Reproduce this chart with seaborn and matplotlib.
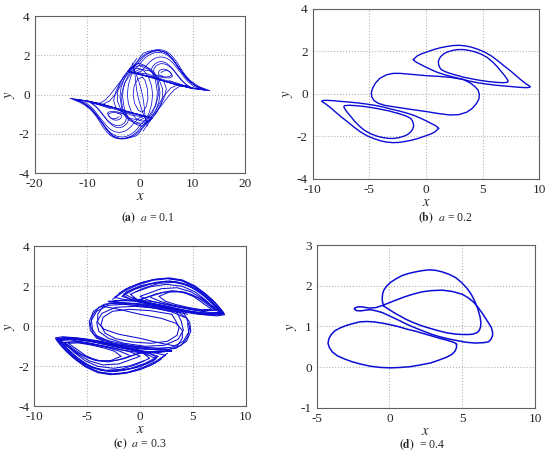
"""
Retratos de fase x-y para quatro valores do parametro a
"""

import numpy as np
import pandas as pd
import matplotlib

matplotlib.use("Agg")
import matplotlib.pyplot as plt
import seaborn as sns

# ================================================================ (a) a = 0.1
# asa superior (gotas encadeadas)
a_sup1_x = [-2.2, 0.0, 3.2, 6.3, 9.5, 11.5, 13.3, 11.4, 10.4, 9.5, 8.8, 8.2, 7.6, 7.0, 6.3, 5.7, 5.0, 4.4, 3.8, 3.2,
            2.5, 1.9, 1.2, 0.6, 0.0, -0.5, -1.0, -1.5, -1.9, -2.2,
            0.5, 3.5, 6.5, 9.5, 12.2, 10.5, 9.6, 9.0, 8.4, 7.8, 7.2, 6.7, 6.1, 5.5, 4.9, 4.3, 3.7, 3.1, 2.5, 2.0,
            1.4, 0.9, 0.4, 0.0, -0.8, -1.3, -1.8]
a_sup1_y = [1.17, 1.02, 0.81, 0.56, 0.34, 0.26, 0.20, 0.39, 0.55, 0.73, 0.93, 1.15, 1.40, 1.66, 1.90, 2.08, 2.20, 2.26, 2.29, 2.29,
            2.26, 2.22, 2.17, 2.10, 1.90, 1.70, 1.55, 1.40, 1.26, 1.17,
            1.00, 0.78, 0.53, 0.35, 0.24, 0.45, 0.62, 0.80, 1.00, 1.20, 1.40, 1.60, 1.80, 1.95, 2.06, 2.12, 2.15, 2.15, 2.11, 2.05,
            1.96, 1.85, 1.70, 1.55, 1.32, 1.25, 1.18]
a_sup2_x = [-1.8, 1.0, 4.0, 7.0, 10.0, 11.8, 10.2, 9.4, 8.7, 8.1, 7.5, 6.9, 6.3, 5.7, 5.1, 4.5, 3.9, 3.3, 2.8, 2.3,
            1.8, 1.4, 1.0, 0.6, 0.3, -0.6,
            1.5, 4.0, 6.5, 8.5, 9.5, 8.9, 8.3, 7.7, 7.2, 6.7, 6.2, 5.6, 5.1, 4.5, 4.0, 3.5, 3.0, 2.7, 2.6, 2.7, 3.0,
            3.6, 4.2, 4.8, 5.4, 5.9, 6.2, 5.9, 5.5, 5.0, 4.5, 4.0, 3.6, 3.5, 3.8, 4.3]
a_sup2_y = [1.18, 0.98, 0.74, 0.50, 0.32, 0.26, 0.42, 0.60, 0.78, 1.00, 1.20, 1.40, 1.60, 1.75, 1.85, 1.90, 1.92, 1.89, 1.85, 1.76,
            1.65, 1.53, 1.40, 1.30, 1.20, 1.12,
            1.05, 0.80, 0.60, 0.45, 0.40, 0.50, 0.62, 0.78, 0.95, 1.12, 1.30, 1.43, 1.52, 1.57, 1.58, 1.54, 1.45, 1.34, 1.20, 1.08, 1.00,
            0.92, 0.88, 0.86, 0.85, 0.88, 0.95, 1.08, 1.20, 1.28, 1.30, 1.27, 1.20, 1.05, 0.98, 0.95]
a_sup3_x = [5.5, 8.0, 10.5, 12.8, 10.8, 10.0, 9.2, 8.6, 8.0, 7.4, 6.8, 6.2, 5.6, 5.0, 4.3, 3.6, 3.0, 2.4, 1.8, 1.2,
            0.6, 0.1, -0.3, -0.8, -1.2, -1.8, -2.3,
            -2.0, 1.0, 4.0, 7.0, 10.0, 12.5, 10.7, 9.8, 9.0, 8.3, 7.7, 7.1, 6.5, 5.8, 5.2, 4.6, 4.0, 3.4, 2.8, 2.2,
            1.6, 1.0, 0.5, -0.1, -0.6, -1.1, -1.6, -2.4]
a_sup3_y = [0.72, 0.50, 0.32, 0.22, 0.42, 0.58, 0.76, 0.95, 1.15, 1.38, 1.60, 1.82, 2.00, 2.12, 2.20, 2.23, 2.22, 2.18, 2.12, 2.03,
            1.90, 1.75, 1.62, 1.50, 1.38, 1.28, 1.18,
            1.15, 0.95, 0.72, 0.50, 0.31, 0.23, 0.43, 0.60, 0.78, 1.00, 1.22, 1.45, 1.70, 1.92, 2.10, 2.18, 2.22, 2.24, 2.24, 2.20,
            2.14, 2.06, 1.95, 1.80, 1.62, 1.48, 1.35, 1.18]
a_sup4_x = [0.0, 3.0, 6.0, 8.0, 9.0, 8.5, 8.0, 7.5, 7.0, 6.5, 6.0, 5.5, 4.9, 4.3, 3.8, 3.3, 2.8, 2.4, 2.2, 2.3, 2.5,
            3.0, 3.6, 4.3, 5.0, 5.6, 6.0, 5.9, 5.6, 5.2, 4.7, 4.3, 4.0]
a_sup4_y = [1.05, 0.82, 0.60, 0.48, 0.45, 0.58, 0.72, 0.88, 1.05, 1.22, 1.38, 1.50, 1.62, 1.68, 1.68, 1.64, 1.55, 1.44, 1.30, 1.18, 1.08,
            1.00, 0.95, 0.92, 0.90, 0.93, 1.00, 1.10, 1.18, 1.22, 1.22, 1.18, 1.12]

# asa inferior (simétrica na figura)
a_inf1_x = [2.2, 0.0, -3.2, -6.3, -9.5, -11.5, -13.3, -11.4, -10.4, -9.5, -8.8, -8.2, -7.6, -7.0, -6.3, -5.7, -5.0, -4.4, -3.8, -3.2,
            -2.5, -1.9, -1.2, -0.6, 0.0, 0.5, 1.0, 1.5, 1.9, 2.2,
            -0.5, -3.5, -6.5, -9.5, -12.2, -10.5, -9.6, -9.0, -8.4, -7.8, -7.2, -6.7, -6.1, -5.5, -4.9, -4.3, -3.7, -3.1, -2.5, -2.0,
            -1.4, -0.9, -0.4, 0.0, 0.8, 1.3, 1.8]
a_inf1_y = [-1.17, -1.02, -0.81, -0.56, -0.34, -0.26, -0.18, -0.39, -0.55, -0.73, -0.93, -1.15, -1.40, -1.66, -1.90, -2.06, -2.17, -2.23, -2.25, -2.25,
            -2.22, -2.18, -2.14, -2.08, -1.90, -1.70, -1.55, -1.40, -1.26, -1.17,
            -1.00, -0.78, -0.53, -0.35, -0.24, -0.45, -0.62, -0.80, -1.00, -1.20, -1.40, -1.60, -1.80, -1.95, -2.06, -2.12, -2.15, -2.15, -2.11, -2.05,
            -1.96, -1.85, -1.70, -1.55, -1.32, -1.25, -1.18]
a_inf2_x = [1.8, -1.0, -4.0, -7.0, -10.0, -11.8, -10.2, -9.4, -8.7, -8.1, -7.5, -6.9, -6.3, -5.7, -5.1, -4.5, -3.9, -3.3, -2.8, -2.3,
            -1.8, -1.4, -1.0, -0.6, -0.3, 0.6,
            -1.5, -4.0, -6.5, -8.5, -9.5, -8.9, -8.3, -7.7, -7.2, -6.7, -6.2, -5.6, -5.1, -4.5, -4.0, -3.5, -3.0, -2.7, -2.6, -2.7, -3.0,
            -3.6, -4.2, -4.8, -5.4, -5.9, -6.2, -5.9, -5.5, -5.0, -4.5, -4.0, -3.6, -3.5, -3.8, -4.3]
a_inf2_y = [-1.18, -0.98, -0.74, -0.50, -0.32, -0.26, -0.42, -0.60, -0.78, -1.00, -1.20, -1.40, -1.60, -1.75, -1.85, -1.90, -1.92, -1.89, -1.85, -1.76,
            -1.65, -1.53, -1.40, -1.30, -1.20, -1.12,
            -1.05, -0.80, -0.60, -0.45, -0.40, -0.50, -0.62, -0.78, -0.95, -1.12, -1.30, -1.43, -1.52, -1.57, -1.58, -1.54, -1.45, -1.34, -1.20, -1.08, -1.00,
            -0.92, -0.88, -0.86, -0.85, -0.88, -0.95, -1.08, -1.20, -1.28, -1.30, -1.27, -1.20, -1.05, -0.98, -0.95]
a_inf3_x = [-5.5, -8.0, -10.5, -12.8, -10.8, -10.0, -9.2, -8.6, -8.0, -7.4, -6.8, -6.2, -5.6, -5.0, -4.3, -3.6, -3.0, -2.4, -1.8, -1.2,
            -0.6, -0.1, 0.3, 0.8, 1.2, 1.8, 2.3,
            2.0, -1.0, -4.0, -7.0, -10.0, -12.5, -10.7, -9.8, -9.0, -8.3, -7.7, -7.1, -6.5, -5.8, -5.2, -4.6, -4.0, -3.4, -2.8, -2.2,
            -1.6, -1.0, -0.5, 0.1, 0.6, 1.1, 1.6, 2.4]
a_inf3_y = [-0.72, -0.50, -0.32, -0.22, -0.42, -0.58, -0.76, -0.95, -1.15, -1.38, -1.60, -1.82, -2.00, -2.12, -2.20, -2.23, -2.22, -2.18, -2.12, -2.03,
            -1.90, -1.75, -1.62, -1.50, -1.38, -1.28, -1.18,
            -1.15, -0.95, -0.72, -0.50, -0.31, -0.23, -0.43, -0.60, -0.78, -1.00, -1.22, -1.45, -1.70, -1.92, -2.10, -2.18, -2.22, -2.24, -2.24, -2.20,
            -2.14, -2.06, -1.95, -1.80, -1.62, -1.48, -1.35, -1.18]
a_inf4_x = [0.0, -3.0, -6.0, -8.0, -9.0, -8.5, -8.0, -7.5, -7.0, -6.5, -6.0, -5.5, -4.9, -4.3, -3.8, -3.3, -2.8, -2.4, -2.2, -2.3, -2.5,
            -3.0, -3.6, -4.3, -5.0, -5.6, -6.0, -5.9, -5.6, -5.2, -4.7, -4.3, -4.0]
a_inf4_y = [-1.05, -0.82, -0.60, -0.48, -0.45, -0.58, -0.72, -0.88, -1.05, -1.22, -1.38, -1.50, -1.62, -1.68, -1.68, -1.64, -1.55, -1.44, -1.30, -1.18, -1.08,
            -1.00, -0.95, -0.92, -0.90, -0.93, -1.00, -1.10, -1.18, -1.22, -1.22, -1.18, -1.12]

# região central: passagens de uma asa para a outra
a_cen1_x = [-0.6, -1.5, -2.5, -3.5, -4.5, -5.5, -6.5, -7.5, -9.0]
a_cen1_y = [1.85, 1.50, 1.12, 0.75, 0.40, 0.05, -0.25, -0.42, -0.45]
a_cen2_x = [0.6, 1.5, 2.5, 3.5, 4.5, 5.5, 6.5, 7.5, 9.0]
a_cen2_y = [-1.85, -1.50, -1.12, -0.75, -0.40, -0.05, 0.25, 0.42, 0.45]
a_cen3_x = [-2.0, -3.0, -3.6, -3.8, -3.4, -2.8, -2.0, -1.0, 0.0, 1.0, 1.8, 2.6, 3.3, 4.0, 4.6, 5.8, 7.2]
a_cen3_y = [1.20, 0.80, 0.35, -0.10, -0.80, -1.10, -1.30, -1.45, -1.50, -1.40, -1.25, -0.98, -0.65, -0.30, -0.05, 0.33, 0.50]
a_cen4_x = [2.0, 3.0, 3.6, 3.8, 3.4, 2.8, 2.0, 1.0, 0.0, -1.0, -1.8, -2.6, -3.3, -4.0, -4.6, -5.8, -7.2]
a_cen4_y = [-1.20, -0.80, -0.35, 0.10, 0.80, 1.10, 1.30, 1.45, 1.50, 1.40, 1.25, 0.98, 0.65, 0.30, 0.05, -0.33, -0.50]
a_cen5_x = [-1.0, -1.7, -2.2, -2.4, -2.2, -1.6, -0.8, 0.0, 0.8, 1.6, 2.2, 2.8, 3.2, 3.3, 3.1, 2.8, 2.2, 1.5, 0.7, 0.0]
a_cen5_y = [1.30, 0.95, 0.50, 0.00, -0.45, -0.90, -1.20, -1.32, -1.35, -1.18, -1.00, -0.65, -0.25, 0.10, 0.50, 0.90, 1.15, 1.30, 1.40, 1.45]
a_cen6_x = [1.0, 1.7, 2.2, 2.4, 2.2, 1.6, 0.8, 0.0, -0.8, -1.6, -2.2, -2.8, -3.2, -3.3, -3.1, -2.8, -2.2, -1.5, -0.7, 0.0]
a_cen6_y = [-1.30, -0.95, -0.50, 0.00, 0.45, 0.90, 1.20, 1.32, 1.35, 1.18, 1.00, 0.65, 0.25, -0.10, -0.50, -0.90, -1.15, -1.30, -1.40, -1.45]
a_cen7_x = [-1.5, -0.8, -0.2, 0.3, 0.6, 0.8, 1.0, 1.4]
a_cen7_y = [1.45, 1.10, 0.65, 0.20, -0.20, -0.60, -1.20, -1.60]
a_cen8_x = [1.5, 0.8, 0.2, -0.3, -0.6, -0.8, -1.0, -1.4]
a_cen8_y = [-1.45, -1.10, -0.65, -0.20, 0.20, 0.60, 1.20, 1.60]
a_cen9_x = [0.5, -0.4, -1.1, -1.3, -1.0, -0.3, 0.5, 1.2, 1.5, 1.4, 1.0, 0.5]
a_cen9_y = [0.90, 0.80, 0.45, 0.00, -0.45, -0.80, -0.90, -0.60, -0.20, 0.30, 0.70, 0.90]
a_cen10_x = [-2.8, -3.8, -4.6, -5.0, -4.6, -3.6, -2.4, -1.2]
a_cen10_y = [1.00, 0.60, 0.15, -0.30, -0.65, -0.85, -0.92, -0.98]
a_cen11_x = [2.8, 3.8, 4.6, 5.0, 4.6, 3.6, 2.4, 1.2]
a_cen11_y = [-1.00, -0.60, -0.15, 0.30, 0.65, 0.85, 0.92, 0.98]
a_cen12_x = [-0.2, -1.8, -3.2, -4.2, -4.3, -3.5, -2.0, 0.0, 1.8, 3.0, 3.6, 3.3, 2.2, 0.8, -0.2]
a_cen12_y = [1.60, 1.35, 0.90, 0.30, -0.30, -0.85, -1.20, -1.30, -1.05, -0.55, 0.10, 0.70, 1.20, 1.50, 1.60]
a_cen13_x = [0.2, 1.8, 3.2, 4.2, 4.3, 3.5, 2.0, 0.0, -1.8, -3.0, -3.6, -3.3, -2.2, -0.8, 0.2]
a_cen13_y = [-1.60, -1.35, -0.90, -0.30, 0.30, 0.85, 1.20, 1.30, 1.05, 0.55, -0.10, -0.70, -1.20, -1.50, -1.60]

# ================================================================ (b) a = 0.2
b_sup_ext_x = [-1.12, -0.80, -0.44, 0.20, 0.74, 1.30, 1.91, 2.40, 2.94, 3.50, 3.97, 4.60, 5.15, 5.80, 6.32, 6.90,
               7.50, 8.00, 8.53, 8.90, 9.12, 9.21, 9.00, 8.68, 8.10, 7.50, 6.80, 6.03, 5.30, 4.56, 3.80, 3.09,
               2.30, 1.62, 1.00, 0.44, 0.00, -0.44, -0.80, -0.97, -1.12]
b_sup_ext_y = [1.62, 1.78, 1.88, 2.00, 2.10, 2.18, 2.24, 2.28, 2.29, 2.26, 2.21, 2.10, 1.98, 1.78, 1.57, 1.32,
               1.07, 0.84, 0.60, 0.45, 0.38, 0.33, 0.30, 0.30, 0.32, 0.35, 0.38, 0.42, 0.47, 0.53, 0.61, 0.71,
               0.81, 0.91, 1.02, 1.15, 1.26, 1.38, 1.48, 1.54, 1.62]
b_sup_int_x = [2.50, 2.00, 1.62, 1.35, 1.21, 1.12, 1.09, 1.17, 1.32, 1.60, 1.91, 2.35, 2.79, 3.30, 3.82, 4.35,
               4.85, 5.40, 5.88, 6.30, 6.62, 6.92, 7.15, 7.25, 7.20, 6.76, 6.20, 5.59, 4.90, 4.26, 3.70, 3.24,
               2.85, 2.50]
b_sup_int_y = [0.91, 0.99, 1.07, 1.15, 1.25, 1.38, 1.51, 1.65, 1.77, 1.90, 1.98, 2.05, 2.09, 2.09, 2.05, 1.98,
               1.88, 1.72, 1.51, 1.28, 1.07, 0.88, 0.71, 0.61, 0.55, 0.53, 0.55, 0.58, 0.63, 0.69, 0.75, 0.80,
               0.86, 0.91]
b_meio_x = [2.21, 1.10, 0.06, -0.80, -1.62, -2.30, -2.88, -3.50, -4.06, -4.45, -4.71, -4.82, -4.79, -4.60,
            -4.21, -3.60, -2.88, -1.40, 0.06, 1.10, 2.12, 2.90, 3.59, 4.10, 4.47, 4.68, 4.71, 4.60, 4.32,
            3.90, 3.30, 2.21]
b_meio_y = [0.78, 0.83, 0.86, 0.90, 0.94, 0.97, 0.97, 0.90, 0.74, 0.52, 0.27, 0.07, -0.13, -0.30,
            -0.44, -0.54, -0.60, -0.72, -0.83, -0.92, -0.99, -0.97, -0.86, -0.67, -0.44, -0.22, -0.02, 0.18, 0.35,
            0.52, 0.68, 0.78]
b_inf_ext_x = [1.12, 0.80, 0.44, -0.20, -0.74, -1.30, -1.91, -2.40, -2.94, -3.50, -3.97, -4.60, -5.15, -5.80, -6.32, -6.90,
               -7.50, -8.00, -8.53, -8.90, -9.12, -9.21, -9.00, -8.68, -8.10, -7.50, -6.80, -6.03, -5.30, -4.56, -3.80, -3.09,
               -2.30, -1.62, -1.00, -0.44, 0.00, 0.44, 0.80, 0.97, 1.12]
b_inf_ext_y = [-1.62, -1.78, -1.88, -2.00, -2.10, -2.18, -2.24, -2.28, -2.29, -2.26, -2.21, -2.10, -1.98, -1.78, -1.57, -1.32,
               -1.07, -0.84, -0.60, -0.45, -0.38, -0.33, -0.30, -0.30, -0.32, -0.35, -0.38, -0.42, -0.47, -0.53, -0.61, -0.71,
               -0.81, -0.91, -1.02, -1.15, -1.26, -1.38, -1.48, -1.54, -1.62]
b_inf_int_x = [-2.50, -2.00, -1.62, -1.35, -1.21, -1.12, -1.09, -1.17, -1.32, -1.60, -1.91, -2.35, -2.79, -3.30, -3.82, -4.35,
               -4.85, -5.40, -5.88, -6.30, -6.62, -6.92, -7.15, -7.25, -7.20, -6.76, -6.20, -5.59, -4.90, -4.26, -3.70, -3.24,
               -2.85, -2.50]
b_inf_int_y = [-0.91, -0.99, -1.07, -1.15, -1.25, -1.38, -1.51, -1.65, -1.77, -1.90, -1.98, -2.05, -2.09, -2.09, -2.05, -1.98,
               -1.88, -1.72, -1.51, -1.28, -1.07, -0.88, -0.71, -0.61, -0.55, -0.53, -0.55, -0.58, -0.63, -0.69, -0.75, -0.80,
               -0.86, -0.91]

# ================================================================ (c) a = 0.3
c_sup1_x = [-2.0, -1.0, 0.2, 1.5, 2.8, 4.0, 5.2, 6.3, 7.2, 7.8, 8.0, 7.3, 6.0, 4.5, 3.0, 1.5, 0.0, -1.0, -1.6,
            -1.3, 0.0, 1.5, 2.8, 4.0, 5.2, 6.2, 7.1, 7.7, 7.1, 5.8, 4.3, 2.8, 1.3, 0.0, -0.8]
c_sup1_y = [1.65, 1.95, 2.20, 2.36, 2.42, 2.32, 2.02, 1.58, 1.12, 0.75, 0.58, 0.52, 0.58, 0.72, 0.90, 1.05, 1.20, 1.38, 1.55,
            1.72, 2.02, 2.20, 2.27, 2.15, 1.86, 1.46, 1.02, 0.68, 0.60, 0.66, 0.80, 0.98, 1.14, 1.30, 1.45]
c_sup2_x = [-0.4, 1.0, 2.5, 4.0, 5.2, 6.2, 7.0, 7.5, 6.6, 5.1, 3.6, 2.1, 0.8, 0.0,
            0.8, 2.0, 3.5, 4.8, 5.9, 6.8, 7.2, 6.1, 4.6, 3.1, 1.9, 1.0]
c_sup2_y = [1.72, 1.98, 2.10, 2.00, 1.72, 1.32, 0.92, 0.70, 0.68, 0.80, 0.96, 1.12, 1.30, 1.50,
            1.65, 1.88, 1.93, 1.73, 1.38, 0.98, 0.80, 0.77, 0.90, 1.06, 1.25, 1.45]
c_sup3_x = [-2.6, -1.5, -0.3, 1.2, 2.6, 3.9, 5.1, 6.1, 7.0, 7.6, 7.9, 7.0, 5.5, 4.0, 2.5, 1.0, -0.5, -1.8, -3.0,
            -1.0, 1.0, 3.0, 5.0, 6.8, 7.9, 7.2, 6.0, 4.8, 3.5, 2.2, 1.0, 0.0, -1.5, -3.0]
c_sup3_y = [1.35, 1.75, 2.05, 2.30, 2.38, 2.28, 1.98, 1.60, 1.20, 0.85, 0.66, 0.58, 0.62, 0.75, 0.92, 1.10, 1.25, 1.30, 1.22,
            1.15, 1.00, 0.85, 0.72, 0.62, 0.60, 0.90, 1.30, 1.60, 1.75, 1.70, 1.50, 1.35, 1.28, 1.25]
c_sup4_x = [-1.7, -0.5, 1.0, 2.4, 3.7, 4.9, 6.0, 6.9, 7.6, 6.4, 5.0, 3.4, 2.0, 0.6, -0.6, -1.7]
c_sup4_y = [1.50, 1.85, 2.12, 2.25, 2.20, 1.95, 1.55, 1.10, 0.70, 0.64, 0.72, 0.88, 1.05, 1.18, 1.30, 1.50]
c_sup5_x = [-0.9, 0.3, 1.8, 3.2, 4.5, 5.6, 6.6, 7.4, 7.85, 7.0, 5.6, 4.0, 2.4, 0.9, -0.2, -0.9]
c_sup5_y = [1.60, 1.90, 2.15, 2.20, 2.05, 1.72, 1.28, 0.86, 0.63, 0.56, 0.60, 0.72, 0.90, 1.10, 1.30, 1.60]
c_sup6_x = [1.8, 2.8, 4.0, 5.1, 6.1, 6.8, 5.8, 4.5, 3.3, 2.4, 1.8]
c_sup6_y = [1.50, 1.72, 1.72, 1.48, 1.10, 0.85, 0.83, 0.95, 1.10, 1.25, 1.50]
c_sup7_x = [-2.4, -1.4, -0.2, 1.2, 2.6, 3.9, 5.0, 6.0, 6.9, 7.5, 7.95, 7.2, 5.8, 4.2, 2.6, 1.1, -0.4, -1.6, -2.4]
c_sup7_y = [1.45, 1.85, 2.12, 2.33, 2.40, 2.30, 2.05, 1.70, 1.30, 0.95, 0.65, 0.57, 0.62, 0.76, 0.95, 1.12, 1.28, 1.35, 1.45]
c_sup8_x = [-1.5, -0.5, 0.8, 2.1, 3.4, 4.6, 5.7, 6.6, 7.3, 7.75, 6.9, 5.4, 3.9, 2.4, 0.9, -0.5, -1.5]
c_sup8_y = [1.62, 1.88, 2.10, 2.22, 2.22, 2.05, 1.75, 1.35, 0.95, 0.70, 0.63, 0.68, 0.82, 0.98, 1.16, 1.35, 1.62]
c_sup9_x = [0.0, 1.5, 3.0, 4.3, 5.5, 6.5, 7.1, 6.2, 4.8, 3.3, 1.8, 0.0]
c_sup9_y = [1.32, 1.62, 1.78, 1.70, 1.42, 1.05, 0.82, 0.78, 0.88, 1.02, 1.18, 1.32]

c_inf1_x = [2.0, 1.0, -0.2, -1.5, -2.8, -4.0, -5.2, -6.3, -7.2, -7.8, -8.0, -7.3, -6.0, -4.5, -3.0, -1.5, 0.0, 1.0, 1.6,
            1.3, 0.0, -1.5, -2.8, -4.0, -5.2, -6.2, -7.1, -7.7, -7.1, -5.8, -4.3, -2.8, -1.3, 0.0, 0.8]
c_inf1_y = [-1.65, -1.95, -2.20, -2.36, -2.42, -2.32, -2.02, -1.58, -1.12, -0.75, -0.58, -0.52, -0.58, -0.72, -0.90, -1.05, -1.20, -1.38, -1.55,
            -1.72, -2.02, -2.20, -2.27, -2.15, -1.86, -1.46, -1.02, -0.68, -0.60, -0.66, -0.80, -0.98, -1.14, -1.30, -1.45]
c_inf2_x = [0.4, -1.0, -2.5, -4.0, -5.2, -6.2, -7.0, -7.5, -6.6, -5.1, -3.6, -2.1, -0.8, 0.0,
            -0.8, -2.0, -3.5, -4.8, -5.9, -6.8, -7.2, -6.1, -4.6, -3.1, -1.9, -1.0]
c_inf2_y = [-1.72, -1.98, -2.10, -2.00, -1.72, -1.32, -0.92, -0.70, -0.68, -0.80, -0.96, -1.12, -1.30, -1.50,
            -1.65, -1.88, -1.93, -1.73, -1.38, -0.98, -0.80, -0.77, -0.90, -1.06, -1.25, -1.45]
c_inf3_x = [2.6, 1.5, 0.3, -1.2, -2.6, -3.9, -5.1, -6.1, -7.0, -7.6, -7.9, -7.0, -5.5, -4.0, -2.5, -1.0, 0.5, 1.8, 3.0,
            1.0, -1.0, -3.0, -5.0, -6.8, -7.9, -7.2, -6.0, -4.8, -3.5, -2.2, -1.0, 0.0, 1.5, 3.0]
c_inf3_y = [-1.35, -1.75, -2.05, -2.30, -2.38, -2.28, -1.98, -1.60, -1.20, -0.85, -0.66, -0.58, -0.62, -0.75, -0.92, -1.10, -1.25, -1.30, -1.22,
            -1.15, -1.00, -0.85, -0.72, -0.62, -0.60, -0.90, -1.30, -1.60, -1.75, -1.70, -1.50, -1.35, -1.28, -1.25]
c_inf4_x = [1.7, 0.5, -1.0, -2.4, -3.7, -4.9, -6.0, -6.9, -7.6, -6.4, -5.0, -3.4, -2.0, -0.6, 0.6, 1.7]
c_inf4_y = [-1.50, -1.85, -2.12, -2.25, -2.20, -1.95, -1.55, -1.10, -0.70, -0.64, -0.72, -0.88, -1.05, -1.18, -1.30, -1.50]
c_inf5_x = [0.9, -0.3, -1.8, -3.2, -4.5, -5.6, -6.6, -7.4, -7.85, -7.0, -5.6, -4.0, -2.4, -0.9, 0.2, 0.9]
c_inf5_y = [-1.60, -1.90, -2.15, -2.20, -2.05, -1.72, -1.28, -0.86, -0.63, -0.56, -0.60, -0.72, -0.90, -1.10, -1.30, -1.60]
c_inf6_x = [-1.8, -2.8, -4.0, -5.1, -6.1, -6.8, -5.8, -4.5, -3.3, -2.4, -1.8]
c_inf6_y = [-1.50, -1.72, -1.72, -1.48, -1.10, -0.85, -0.83, -0.95, -1.10, -1.25, -1.50]
c_inf7_x = [2.4, 1.4, 0.2, -1.2, -2.6, -3.9, -5.0, -6.0, -6.9, -7.5, -7.95, -7.2, -5.8, -4.2, -2.6, -1.1, 0.4, 1.6, 2.4]
c_inf7_y = [-1.45, -1.85, -2.12, -2.33, -2.40, -2.30, -2.05, -1.70, -1.30, -0.95, -0.65, -0.57, -0.62, -0.76, -0.95, -1.12, -1.28, -1.35, -1.45]
c_inf8_x = [1.5, 0.5, -0.8, -2.1, -3.4, -4.6, -5.7, -6.6, -7.3, -7.75, -6.9, -5.4, -3.9, -2.4, -0.9, 0.5, 1.5]
c_inf8_y = [-1.62, -1.88, -2.10, -2.22, -2.22, -2.05, -1.75, -1.35, -0.95, -0.70, -0.63, -0.68, -0.82, -0.98, -1.16, -1.35, -1.62]
c_inf9_x = [0.0, -1.5, -3.0, -4.3, -5.5, -6.5, -7.1, -6.2, -4.8, -3.3, -1.8, 0.0]
c_inf9_y = [-1.32, -1.62, -1.78, -1.70, -1.42, -1.05, -0.82, -0.78, -0.88, -1.02, -1.18, -1.32]

c_meio1_x = [4.0, 2.0, 0.0, -2.0, -3.4, -4.4, -4.8, -4.7, -4.1, -2.0, 0.0, 2.0, 3.4, 4.4, 4.8, 4.7, 4.0]
c_meio1_y = [0.75, 0.95, 1.10, 1.20, 1.10, 0.75, 0.25, -0.20, -0.60, -0.95, -1.10, -1.20, -1.10, -0.75, -0.25, 0.20, 0.75]
c_meio2_x = [3.5, 1.5, -0.5, -2.3, -3.6, -4.1, -3.9, -3.0, -1.5, 0.5, 2.3, 3.6, 4.1, 3.9, 3.5]
c_meio2_y = [0.70, 0.90, 1.00, 0.95, 0.65, 0.20, -0.25, -0.60, -0.85, -1.00, -0.95, -0.65, -0.20, 0.25, 0.70]
c_meio3_x = [4.5, 2.5, 0.5, -1.5, -3.0, -4.1, -4.6, -4.5, -4.0, -2.5, -0.5, 1.5, 3.0, 4.1, 4.6, 4.5]
c_meio3_y = [0.60, 0.85, 1.00, 1.10, 1.05, 0.75, 0.30, -0.15, -0.55, -0.85, -1.00, -1.10, -1.05, -0.75, -0.30, 0.15]
c_meio4_x = [-3.5, -4.0, -4.0, -3.4, -2.0, 0.0, 2.0, 3.5]
c_meio4_y = [1.00, 0.60, 0.20, -0.15, -0.40, -0.60, -0.85, -1.00]
c_meio5_x = [3.5, 4.0, 4.0, 3.4, 2.0, 0.0, -2.0, -3.5]
c_meio5_y = [-1.00, -0.60, -0.20, 0.15, 0.40, 0.60, 0.85, 1.00]
c_meio6_x = [4.2, 3.0, 1.0, -1.0, -2.8, -3.9, -4.5, -4.7, -4.4, -3.4, -1.5, 0.5, 2.5]
c_meio6_y = [0.45, 0.72, 0.95, 1.08, 1.15, 0.95, 0.55, 0.05, -0.40, -0.80, -1.05, -1.15, -1.15]
c_meio7_x = [-4.2, -3.0, -1.0, 1.0, 2.8, 3.9, 4.5, 4.7, 4.4, 3.4, 1.5, -0.5, -2.5]
c_meio7_y = [-0.45, -0.72, -0.95, -1.08, -1.15, -0.95, -0.55, -0.05, 0.40, 0.80, 1.05, 1.15, 1.15]
c_meio8_x = [3.0, 1.0, -1.0, -2.6, -3.5, -3.7, -3.3, -2.3, -0.8, 1.0, 2.6, 3.5, 3.7, 3.3, 3.0]
c_meio8_y = [0.60, 0.78, 0.85, 0.75, 0.45, 0.05, -0.35, -0.62, -0.78, -0.85, -0.75, -0.45, -0.05, 0.35, 0.60]

# ================================================================ (d) a = 0.4
d_meio_x = [-2.41, -2.30, -2.00, -1.60, -1.31, -0.90, -0.50, 0.05, 0.64, 1.20, 1.79, 2.35, 2.94, 3.50, 4.08,
            4.65, 5.23, 5.90, 6.49, 6.80, 6.97, 7.07, 7.09, 7.00, 6.83, 6.62, 6.38, 6.10, 5.80, 5.42, 5.00,
            4.30, 3.62, 2.90, 2.25, 1.60, 0.99, 0.40, -0.16, -0.60, -0.96, -1.42, -1.88, -2.15, -2.35, -2.41]
d_meio_y = [1.43, 1.39, 1.38, 1.40, 1.41, 1.38, 1.34, 1.25, 1.15, 1.05, 0.96, 0.88, 0.80, 0.74, 0.69,
            0.65, 0.61, 0.59, 0.60, 0.62, 0.68, 0.76, 0.85, 0.97, 1.07, 1.19, 1.32, 1.46, 1.59, 1.70, 1.79,
            1.86, 1.89, 1.88, 1.85, 1.79, 1.72, 1.64, 1.56, 1.50, 1.46, 1.45, 1.48, 1.48, 1.46, 1.43]
d_sup_x = [-0.39, -0.48, -0.50, -0.47, -0.39, -0.20, 0.07, 0.45, 0.87, 1.30, 1.79, 2.25, 2.71, 3.15, 3.62,
           4.10, 4.54, 4.95, 5.34, 5.63, 5.87, 6.07, 6.22, 6.28, 6.26, 6.17, 6.03, 5.75, 5.46, 5.00, 4.54,
           3.95, 3.39, 2.80, 2.25, 1.65, 1.10, 0.70, 0.30, 0.00, -0.23, -0.39]
d_sup_y = [1.50, 1.60, 1.69, 1.80, 1.89, 1.99, 2.08, 2.17, 2.25, 2.30, 2.34, 2.37, 2.39, 2.38, 2.34,
           2.28, 2.20, 2.08, 1.93, 1.78, 1.61, 1.43, 1.24, 1.10, 0.99, 0.90, 0.85, 0.81, 0.80, 0.80, 0.81,
           0.84, 0.89, 0.95, 1.01, 1.09, 1.18, 1.26, 1.34, 1.41, 1.46, 1.50]
d_inf_x = [4.61, 4.60, 4.50, 4.28, 3.97, 3.40, 2.82, 2.10, 1.44, 0.75, 0.07, -0.60, -1.31, -1.95, -2.57,
           -3.10, -3.60, -3.92, -4.13, -4.22, -4.17, -4.02, -3.76, -3.40, -2.98, -2.50, -2.06, -1.55, -1.08,
           -0.50, 0.07, 0.65, 1.22, 1.80, 2.36, 2.95, 3.51, 3.95, 4.31, 4.52, 4.61]
d_inf_y = [0.56, 0.47, 0.39, 0.31, 0.25, 0.17, 0.10, 0.05, 0.01, -0.01, -0.02, -0.01, 0.02, 0.07, 0.13,
           0.20, 0.28, 0.37, 0.48, 0.58, 0.69, 0.79, 0.89, 0.96, 1.02, 1.07, 1.11, 1.12, 1.11,
           1.08, 1.04, 0.99, 0.93, 0.88, 0.82, 0.76, 0.70, 0.66, 0.62, 0.59, 0.56]

# eixos e rótulos dos painéis
xlims = [(-20, 20), (-10, 10), (-10, 10), (-5, 10)]
ylims = [(-4, 4), (-4, 4), (-4, 4), (-1, 3)]
xticks = [[-20, -10, 0, 10, 20], [-10, -5, 0, 5, 10], [-10, -5, 0, 5, 10], [-5, 0, 5, 10]]
yticks = [[-4, -2, 0, 2, 4], [-4, -2, 0, 2, 4], [-4, -2, 0, 2, 4], [-1, 0, 1, 2, 3]]
legendas = [r"$\mathbf{(a)}$  $a$ = 0.1", r"$\mathbf{(b)}$  $a$ = 0.2",
            r"$\mathbf{(c)}$  $a$ = 0.3", r"$\mathbf{(d)}$  = 0.4"]

COR = "#0c0cd4"


def montar(tracos):
    """Junta os traços de um painel num DataFrame com uma coluna de unidade"""
    partes = [
        pd.DataFrame({"x": tx, "y": ty, "traco": k}) for k, (tx, ty) in enumerate(tracos)
    ]
    return pd.concat(partes, ignore_index=True)


curvas = [
    montar([(a_sup1_x, a_sup1_y), (a_sup2_x, a_sup2_y), (a_sup3_x, a_sup3_y), (a_sup4_x, a_sup4_y),
            (a_inf1_x, a_inf1_y), (a_inf2_x, a_inf2_y), (a_inf3_x, a_inf3_y), (a_inf4_x, a_inf4_y),
            (a_cen1_x, a_cen1_y), (a_cen2_x, a_cen2_y), (a_cen3_x, a_cen3_y), (a_cen4_x, a_cen4_y),
            (a_cen5_x, a_cen5_y), (a_cen6_x, a_cen6_y), (a_cen7_x, a_cen7_y), (a_cen8_x, a_cen8_y),
            (a_cen9_x, a_cen9_y), (a_cen10_x, a_cen10_y), (a_cen11_x, a_cen11_y),
            (a_cen12_x, a_cen12_y), (a_cen13_x, a_cen13_y)]),
    montar([(b_sup_ext_x, b_sup_ext_y), (b_sup_int_x, b_sup_int_y), (b_meio_x, b_meio_y),
            (b_inf_ext_x, b_inf_ext_y), (b_inf_int_x, b_inf_int_y)]),
    montar([(c_sup1_x, c_sup1_y), (c_sup2_x, c_sup2_y), (c_sup3_x, c_sup3_y), (c_sup4_x, c_sup4_y),
            (c_sup5_x, c_sup5_y), (c_sup6_x, c_sup6_y), (c_sup7_x, c_sup7_y), (c_sup8_x, c_sup8_y),
            (c_sup9_x, c_sup9_y),
            (c_inf1_x, c_inf1_y), (c_inf2_x, c_inf2_y), (c_inf3_x, c_inf3_y), (c_inf4_x, c_inf4_y),
            (c_inf5_x, c_inf5_y), (c_inf6_x, c_inf6_y), (c_inf7_x, c_inf7_y), (c_inf8_x, c_inf8_y),
            (c_inf9_x, c_inf9_y),
            (c_meio1_x, c_meio1_y), (c_meio2_x, c_meio2_y), (c_meio3_x, c_meio3_y),
            (c_meio4_x, c_meio4_y), (c_meio5_x, c_meio5_y), (c_meio6_x, c_meio6_y),
            (c_meio7_x, c_meio7_y), (c_meio8_x, c_meio8_y)]),
    montar([(d_meio_x, d_meio_y), (d_sup_x, d_sup_y), (d_inf_x, d_inf_y)]),
]
larguras = [0.55, 1.0, 0.75, 1.1]

sns.set_style("white")
plt.rcParams["font.family"] = ["Liberation Serif", "DejaVu Serif"]
plt.rcParams["mathtext.fontset"] = "stix"
plt.rcParams["axes.unicode_minus"] = False

fig = plt.figure(figsize=(5.5, 4.58), dpi=100)

# posições dos painéis (fração da figura)
posicoes = [
    [0.063, 0.6216, 0.383, 0.3434],
    [0.5685, 0.6092, 0.412, 0.3712],
    [0.0624, 0.1129, 0.3844, 0.3493],
    [0.5758, 0.1098, 0.397, 0.3552],
]
pos_legenda = [(0.27, 0.525), (0.81, 0.525), (0.255, 0.030), (0.767, 0.029)]

for i in range(4):
    ax = fig.add_axes(posicoes[i])
    sns.lineplot(data=curvas[i], x="x", y="y", units="traco", estimator=None, sort=False,
                 color=COR, linewidth=larguras[i], ax=ax)

    ax.set_xlim(*xlims[i])
    ax.set_ylim(*ylims[i])
    ax.set_xticks(xticks[i])
    ax.set_yticks(yticks[i])
    ax.grid(True, linestyle=":", color="#b4b4b4", linewidth=0.8)
    ax.set_axisbelow(True)
    for sp in ax.spines.values():
        sp.set_color("#606060")
        sp.set_linewidth(0.8)
    ax.tick_params(direction="in", length=2, labelsize=9.5, pad=3.5, color="#606060")
    ax.set_xlabel(r"$x$", fontsize=10.5, labelpad=0)
    ax.set_ylabel(r"$y$", fontsize=10.5, labelpad=1)

    fig.text(pos_legenda[i][0], pos_legenda[i][1], legendas[i],
             ha="center", va="center", fontsize=8.5)

plt.savefig("out.png", dpi=100)
